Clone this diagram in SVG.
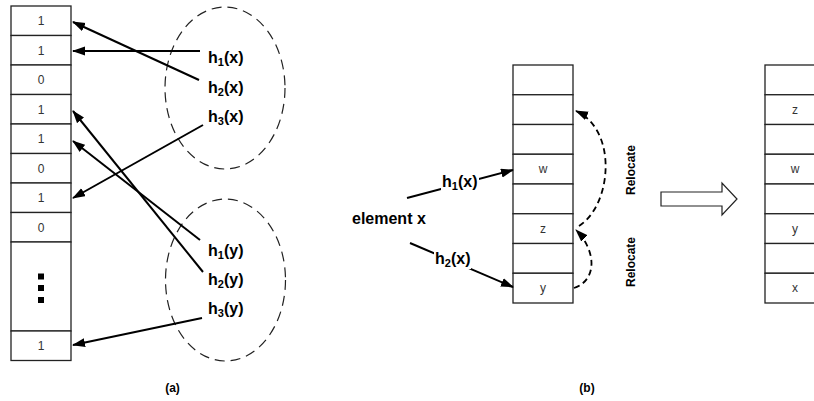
<svg xmlns="http://www.w3.org/2000/svg" width="814" height="401" viewBox="0 0 814 401">
<style>
.cell{fill:#fff;stroke:#222;stroke-width:1.3}
.num{font-family:"Liberation Sans",Arial,sans-serif;font-size:12px;fill:#333;text-anchor:middle}
.lbl{font-family:"Liberation Sans",Arial,sans-serif;font-size:16px;font-weight:bold;fill:#000}
.cap{font-family:"Liberation Sans",Arial,sans-serif;font-size:12px;font-weight:bold;fill:#000;text-anchor:middle}
.edge{stroke:#000;stroke-width:2;fill:none;marker-end:url(#ah)}
.dedge{stroke:#000;stroke-width:1.8;fill:none;stroke-dasharray:6 4;marker-end:url(#ah)}
.ell{fill:none;stroke:#222;stroke-width:1.2;stroke-dasharray:10 6}
</style>
<defs>
<marker id="ah" markerUnits="userSpaceOnUse" markerWidth="14" markerHeight="10" refX="12" refY="4.5" orient="auto">
<path d="M0,0 L13,4.5 L0,9 z" fill="#000"/>
</marker>
</defs>
<rect width="814" height="401" fill="#fff"/>

<g id="bitarray">
<rect class="cell" x="11" y="6" width="60" height="29.5"/>
<rect class="cell" x="11" y="35.5" width="60" height="29.5"/>
<rect class="cell" x="11" y="65" width="60" height="29.5"/>
<rect class="cell" x="11" y="94.5" width="60" height="29.5"/>
<rect class="cell" x="11" y="124" width="60" height="29.5"/>
<rect class="cell" x="11" y="153.5" width="60" height="29.5"/>
<rect class="cell" x="11" y="183" width="60" height="29.5"/>
<rect class="cell" x="11" y="212.5" width="60" height="29.5"/>
<rect class="cell" x="11" y="242" width="60" height="89"/>
<rect class="cell" x="11" y="331" width="60" height="29.5"/>
<text class="num" x="41" y="25">1</text>
<text class="num" x="41" y="54.5">1</text>
<text class="num" x="41" y="84">0</text>
<text class="num" x="41" y="113.5">1</text>
<text class="num" x="41" y="143">1</text>
<text class="num" x="41" y="172.5">0</text>
<text class="num" x="41" y="202">1</text>
<text class="num" x="41" y="231.5">0</text>
<rect x="38" y="273.5" width="6" height="6" fill="#000"/>
<rect x="38" y="285" width="6" height="6" fill="#000"/>
<rect x="38" y="297" width="6" height="6" fill="#000"/>
<text class="num" x="41" y="350">1</text>
</g>

<g id="set-x">
<ellipse class="ell" cx="225" cy="88" rx="60" ry="81"/>
<text class="lbl" x="208" y="63">h<tspan font-size="11" dy="3">1</tspan><tspan dy="-3">(x)</tspan></text>
<text class="lbl" x="208" y="93">h<tspan font-size="11" dy="3">2</tspan><tspan dy="-3">(x)</tspan></text>
<text class="lbl" x="208" y="122">h<tspan font-size="11" dy="3">3</tspan><tspan dy="-3">(x)</tspan></text>
</g>

<g id="set-y">
<ellipse class="ell" cx="225.5" cy="280" rx="60" ry="81"/>
<text class="lbl" x="208" y="256">h<tspan font-size="11" dy="3">1</tspan><tspan dy="-3">(y)</tspan></text>
<text class="lbl" x="208" y="285">h<tspan font-size="11" dy="3">2</tspan><tspan dy="-3">(y)</tspan></text>
<text class="lbl" x="208" y="314">h<tspan font-size="11" dy="3">3</tspan><tspan dy="-3">(y)</tspan></text>
</g>

<g id="table-before">
<rect class="cell" x="513" y="65" width="60" height="29.75"/>
<rect class="cell" x="513" y="94.75" width="60" height="29.75"/>
<rect class="cell" x="513" y="124.5" width="60" height="29.75"/>
<rect class="cell" x="513" y="154.25" width="60" height="29.75"/>
<rect class="cell" x="513" y="184" width="60" height="29.75"/>
<rect class="cell" x="513" y="213.75" width="60" height="29.75"/>
<rect class="cell" x="513" y="243.5" width="60" height="29.75"/>
<rect class="cell" x="513" y="273.25" width="60" height="29.75"/>
<text class="num" x="543" y="173">w</text>
<text class="num" x="543" y="232.5">z</text>
<text class="num" x="543" y="292">y</text>
</g>

<g id="table-after">
<rect class="cell" x="765" y="65" width="60" height="29.75"/>
<rect class="cell" x="765" y="94.75" width="60" height="29.75"/>
<rect class="cell" x="765" y="124.5" width="60" height="29.75"/>
<rect class="cell" x="765" y="154.25" width="60" height="29.75"/>
<rect class="cell" x="765" y="184" width="60" height="29.75"/>
<rect class="cell" x="765" y="213.75" width="60" height="29.75"/>
<rect class="cell" x="765" y="243.5" width="60" height="29.75"/>
<rect class="cell" x="765" y="273.25" width="60" height="29.75"/>
<text class="num" x="795" y="113.5">z</text>
<text class="num" x="795" y="173">w</text>
<text class="num" x="795" y="232.5">y</text>
<text class="num" x="795" y="292">x</text>
</g>

<g id="element-x">
<text class="lbl" x="352" y="224" font-size="16.8">element x</text>
</g>

<g id="transform-arrow">
<polygon points="661,192 722,192 722,183 737,199 722,215 722,206 661,206" fill="#fff" stroke="#222" stroke-width="1.2"/>
</g>

<g id="connectors">
<line class="edge" x1="200" y1="51" x2="73" y2="51"/>
<line class="edge" x1="199" y1="80" x2="73" y2="22"/>
<line class="edge" x1="203" y1="125" x2="73" y2="198"/>
<line class="edge" x1="200" y1="240" x2="73" y2="141"/>
<line class="edge" x1="203" y1="272" x2="73" y2="111"/>
<line class="edge" x1="202" y1="318" x2="73" y2="345"/>
<line class="edge" x1="407" y1="198" x2="513" y2="170"/>
<line class="edge" x1="410" y1="243" x2="513" y2="287"/>
<path class="dedge" d="M579,226 C612,205 618,130 576,111"/>
<path class="dedge" d="M574,288 C598,280 596,250 576,230"/>
</g>

<g id="edge-labels">
<rect x="441" y="172" width="38" height="20" fill="#fff"/>
<text class="lbl" x="442" y="187">h<tspan font-size="11" dy="3">1</tspan><tspan dy="-3">(x)</tspan></text>
<rect x="434" y="249" width="37" height="20" fill="#fff"/>
<text class="lbl" x="435" y="264">h<tspan font-size="11" dy="3">2</tspan><tspan dy="-3">(x)</tspan></text>
<text class="cap" transform="translate(635,170) rotate(-90)">Relocate</text>
<text class="cap" transform="translate(635,262) rotate(-90)">Relocate</text>
</g>

<g id="captions">
<text class="cap" x="172.5" y="392">(a)</text>
<text class="cap" x="587" y="392">(b)</text>
</g>
</svg>
